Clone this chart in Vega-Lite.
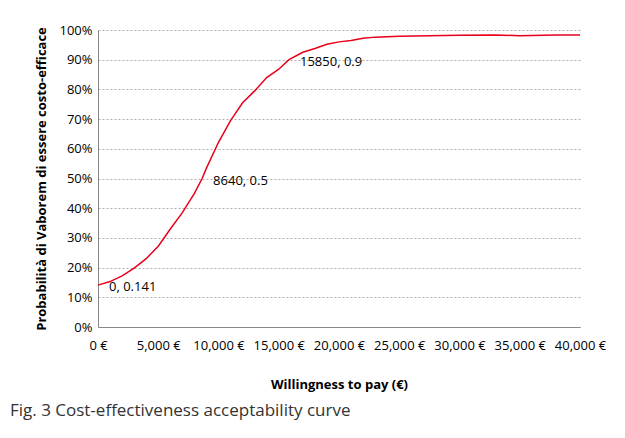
{
  "$schema": "https://vega.github.io/schema/vega-lite/v6.json",
  "autosize": "none",
  "width": 482,
  "height": 297,
  "padding": {"left": 98, "top": 30, "right": 45, "bottom": 111},
  "background": "white",
  "config": {"font": "Open Sans", "view": {"stroke": null}},
  "title": {
    "text": "Fig. 3 Cost-effectiveness acceptability curve",
    "orient": "bottom",
    "anchor": "start",
    "fontSize": 17,
    "fontWeight": "normal",
    "color": "#333333",
    "offset": 12,
    "dx": -26
  },
  "datasets": {
    "ceac": [
      {"wtp": 0, "p": 0.141}, {"wtp": 1000, "p": 0.153}, {"wtp": 2000, "p": 0.172},
      {"wtp": 3000, "p": 0.198}, {"wtp": 4000, "p": 0.23}, {"wtp": 5000, "p": 0.272},
      {"wtp": 6000, "p": 0.33}, {"wtp": 7000, "p": 0.385}, {"wtp": 8000, "p": 0.45},
      {"wtp": 8640, "p": 0.5}, {"wtp": 9000, "p": 0.535}, {"wtp": 10000, "p": 0.622},
      {"wtp": 11000, "p": 0.695}, {"wtp": 12000, "p": 0.755}, {"wtp": 13000, "p": 0.795},
      {"wtp": 14000, "p": 0.84}, {"wtp": 15000, "p": 0.868}, {"wtp": 15850, "p": 0.9},
      {"wtp": 17000, "p": 0.925}, {"wtp": 18000, "p": 0.938}, {"wtp": 19000, "p": 0.952},
      {"wtp": 20000, "p": 0.96}, {"wtp": 21000, "p": 0.965}, {"wtp": 22000, "p": 0.972},
      {"wtp": 23000, "p": 0.976}, {"wtp": 25000, "p": 0.979}, {"wtp": 30000, "p": 0.982},
      {"wtp": 33000, "p": 0.983}, {"wtp": 35000, "p": 0.981}, {"wtp": 38000, "p": 0.983},
      {"wtp": 40000, "p": 0.983}
    ],
    "labels": [
      {"wtp": 0, "p": 0.141, "label": "0, 0.141"},
      {"wtp": 8640, "p": 0.5, "label": "8640, 0.5"},
      {"wtp": 15850, "p": 0.9, "label": "15850, 0.9"}
    ]
  },
  "encoding": {
    "x": {
      "field": "wtp", "type": "quantitative",
      "scale": {"domain": [0, 40000], "nice": false},
      "axis": {
        "values": [0, 5000, 10000, 15000, 20000, 25000, 30000, 35000, 40000],
        "labelExpr": "format(datum.value, ',') + ' €'",
        "title": "Willingness to pay (€)",
        "titleFontSize": 13, "titleFontWeight": "bold", "titlePadding": 26, "titleColor": "#000",
        "labelFontSize": 13, "labelColor": "#000", "labelPadding": 12,
        "ticks": false, "grid": false, "domainColor": "#888", "labelFlush": false
      }
    },
    "y": {
      "field": "p", "type": "quantitative",
      "scale": {"domain": [0, 1], "nice": false},
      "axis": {
        "values": [0, 0.1, 0.2, 0.3, 0.4, 0.5, 0.6, 0.7, 0.8, 0.9, 1],
        "format": ".0%",
        "title": "Probabilità di Vaborem di essere costo-efficace",
        "titleFontSize": 13, "titleFontWeight": "bold", "titlePadding": 10, "titleColor": "#000",
        "labelFontSize": 13, "labelColor": "#000", "labelPadding": 6,
        "ticks": false, "domainColor": "#888",
        "gridColor": "#999", "gridDash": [2, 2], "gridWidth": 0.8
      }
    }
  },
  "layer": [
    {
      "data": {"name": "ceac"},
      "mark": {"type": "line", "color": "#e8001c", "strokeWidth": 1.5}
    },
    {
      "data": {"name": "labels"},
      "mark": {"type": "text", "align": "left", "dx": 11, "dy": 2, "fontSize": 13, "color": "#000"},
      "encoding": {"text": {"field": "label"}}
    }
  ]
}
